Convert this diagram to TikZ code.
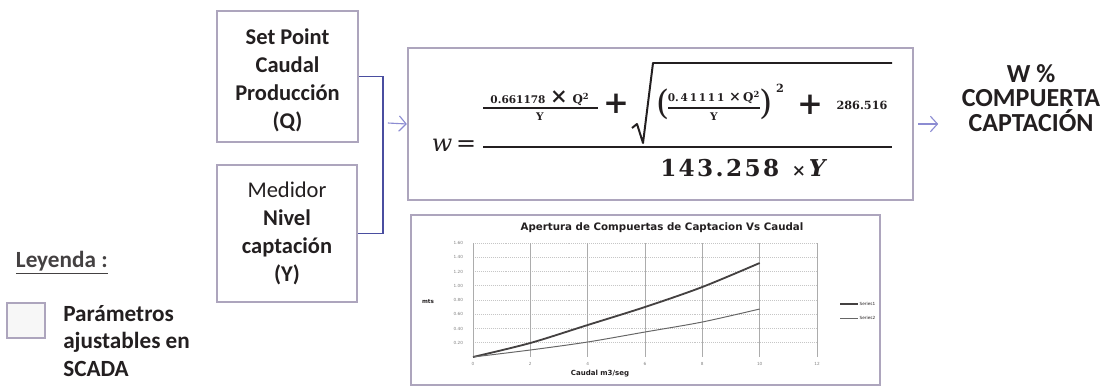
\documentclass[tikz,border=0pt]{standalone}
\usepackage{fontspec}
\setmainfont{Carlito}
\newfontfamily\chartfont{DejaVu Sans}
\newfontfamily\eqfont{DejaVu Serif}
\usetikzlibrary{arrows.meta, positioning, calc}

\definecolor{BoxLila}{HTML}{ADA5BD}
\definecolor{LinkBlue}{HTML}{4A4EA0}
\definecolor{ArrowLila}{HTML}{8C8CD2}
\definecolor{InkDark}{HTML}{231F20}

\newcommand{\eqsize}[1]{\fontsize{#1}{#1}\selectfont}

\begin{document}
\begin{tikzpicture}[x=0.025cm, y=-0.025cm, >=Stealth,
    param/.style={draw=BoxLila, line width=1.6pt, fill=white, align=center,
      text=InkDark, inner sep=0pt, font=\fontsize{16}{20}\selectfont\bfseries},
    link/.style={draw=LinkBlue, line width=1.2pt},
    flow/.style={draw=ArrowLila, line width=0.8pt, -{Straight Barb[length=5pt, width=11pt]}},
    eqtext/.style={inner sep=0pt, text=InkDark, font=\eqfont\bfseries},
    eqbar/.style={draw=InkDark, line width=1.3pt},
    tick/.style={font=\chartfont\fontsize{3}{3.5}\selectfont, text=gray},
    gridv/.style={draw=gray!65, line width=0.45pt},
    gridh/.style={draw=gray!45, line width=0.4pt, densely dotted}]
  \useasboundingbox (0,0) rectangle (1115,387);

  % input boxes
  \node[param, minimum width=3.525cm, minimum height=3.275cm] (sp) at (287.5,76.5)
    {\rule{0pt}{17pt}Set Point\\Caudal\\Producción\\(Q)};
  \node[param, minimum width=3.5cm, minimum height=3.425cm] (med) at (287,233.5)
    {{\mdseries Medidor}\\Nivel\\captación\\(Y)};
  \coordinate (bus) at (383,123);
  \draw[link] (sp.east) -| (bus) |- (med.east);

  % formula box
  \node[draw=BoxLila, line width=1.6pt, minimum width=12.625cm, minimum height=3.8cm] (eqbox) at (660.5,124) {};
  \draw[flow] ([xshift=0.12cm]bus) -- (eqbox.west);
  \node[eqtext, font=\eqfont\eqsize{17}] (wlab) at (454,145) {\textit{w}\,=};
  \node[eqtext] (n1) at (540,98)
    {{\eqsize{7.5}0.661178}\,\,{\eqsize{15}×}\,\,{\eqsize{8.5}Q\textsuperscript{2}}};
  \draw[eqbar, line width=1pt] (483,108) -- (598,108);
  \node[eqtext, font=\eqfont\bfseries\eqsize{7.5}] (d1) at (540,117) {Y};
  \node[eqtext, font=\eqfont\bfseries\eqsize{22}] (p1) at (616,104) {+};
  \draw[eqbar, line width=1.4pt, line join=round] (632,128) -- (637,124) -- (643,143) -- (653,63) -- (892,63);
  \node[eqtext, font=\eqfont\eqsize{24}] (lp) at (663,104) {(};
  \node[eqtext] (n2) at (714,97)
    {{\eqsize{7.5}0.\,4\,1\,1\,1\,1}\,\,{\eqsize{10}×}\,{\eqsize{8.5}Q\textsuperscript{2}}};
  \draw[eqbar, line width=1pt] (668,108) -- (760,108);
  \node[eqtext, font=\eqfont\bfseries\eqsize{7.5}] (d2) at (714,117) {Y};
  \node[eqtext, font=\eqfont\eqsize{24}] (rp) at (766,104) {)};
  \node[eqtext, font=\eqfont\bfseries\eqsize{8}] (sq) at (780,88) {2};
  \node[eqtext, font=\eqfont\bfseries\eqsize{22}] (p2) at (810,105) {+};
  \node[eqtext, font=\eqfont\bfseries\eqsize{8}] (c1) at (862,105) {286.516};
  \draw[eqbar] (483,147) -- (892,147);
  \node[eqtext, anchor=west] (den) at (660,168)
    {{\addfontfeature{LetterSpace=10}\eqsize{16.5}143.258}\hspace{9pt}{\eqsize{12}×}\hspace{2pt}{\itshape\eqsize{16.5}Y}};

  % output
  \node[align=center, text=InkDark, font=\fontsize{18.5}{17.5}\selectfont\bfseries] (out) at (1031,98)
    {W \%\\COMPUERTA\\CAPTACIÓN};
  \draw[flow] ([xshift=0.1cm]eqbox.east) -- ([xshift=0.6cm]eqbox.east);

  % chart
  \draw[draw=BoxLila, line width=1.2pt] (411,215) rectangle (880,385);
  \node[font=\chartfont\bfseries\fontsize{7.3}{8}\selectfont, text=InkDark] (title) at (662,228)
    {Apertura de Compuertas de Captacion Vs Caudal};
  \draw[gridh] (473,243) -- (817,243) (473,257.25) -- (817,257.25) (473,271.5) -- (817,271.5)
    (473,285.75) -- (817,285.75) (473,300) -- (817,300) (473,314.25) -- (817,314.25)
    (473,328.5) -- (817,328.5) (473,342.75) -- (817,342.75);
  \draw[gridv] (473,243) -- (473,357) (530.3,243) -- (530.3,357) (587.7,243) -- (587.7,357)
    (645,243) -- (645,357) (702.3,243) -- (702.3,357) (759.7,243) -- (759.7,357) (817,243) -- (817,357);
  \node[tick, anchor=east] at (468,243) {1.60};
  \node[tick, anchor=east] at (468,257.25) {1.40};
  \node[tick, anchor=east] at (468,271.5) {1.20};
  \node[tick, anchor=east] at (468,285.75) {1.00};
  \node[tick, anchor=east] at (468,300) {0.80};
  \node[tick, anchor=east] at (468,314.25) {0.60};
  \node[tick, anchor=east] at (468,328.5) {0.40};
  \node[tick, anchor=east] at (468,342.75) {0.20};
  \node[tick] at (473,364) {0};
  \node[tick] at (530.3,364) {2};
  \node[tick] at (587.7,364) {4};
  \node[tick] at (645,364) {6};
  \node[tick] at (702.3,364) {8};
  \node[tick] at (759.7,364) {10};
  \node[tick] at (817,364) {12};
  \node[font=\chartfont\bfseries\fontsize{4}{5}\selectfont, text=InkDark] (ylab) at (428,302) {mts};
  \node[font=\chartfont\bfseries\fontsize{5}{6}\selectfont, text=InkDark] (xlab) at (600,374) {Caudal m3/seg};
  \draw[draw=InkDark!85, line width=1.3pt] plot[smooth] coordinates
    {(473,357) (530.3,343) (587.7,325) (645,307) (702.3,287) (759.7,263)};
  \draw[draw=gray!80!black, line width=0.7pt] plot[smooth] coordinates
    {(473,357) (530.3,350) (587.7,342) (645,332) (702.3,322) (759.7,309)};
  \coordinate (s1) at (840,304);
  \coordinate (s2) at (840,318);
  \node[tick, anchor=west, text=InkDark, inner sep=1pt] (s1t) at (858,304) {Series1};
  \node[tick, anchor=west, text=InkDark, inner sep=1pt] (s2t) at (858,318) {Series2};
  \draw[draw=InkDark!85, line width=1.3pt] (s1) -- (s1t.west);
  \draw[draw=gray!80!black, line width=0.7pt] (s2) -- (s2t.west);

  % legend
  \node[anchor=west, text=InkDark!85, font=\fontsize{16.5}{19}\selectfont\bfseries] (ley) at (11,263)
    {\underline{Leyenda :}};
  \node[draw=BoxLila, line width=1.6pt, fill=gray!6, minimum width=0.95cm, minimum height=0.875cm] (legbox) at (26,320.5) {};
  \node[anchor=west, align=left, inner sep=0pt, text=InkDark, font=\fontsize{16.5}{19.5}\selectfont\bfseries] (legtxt) at (63,341)
    {Parámetros\\ajustables en\\SCADA};
\end{tikzpicture}
\end{document}
